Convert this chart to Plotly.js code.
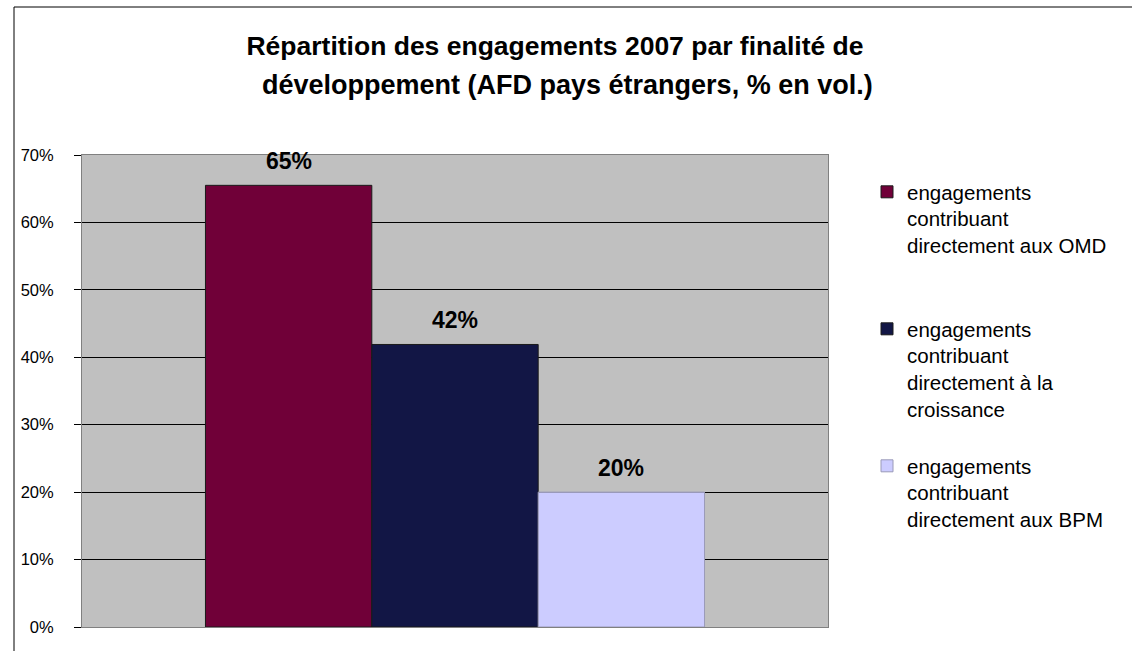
<!DOCTYPE html>
<html>
<head>
<meta charset="utf-8">
<script src="https://cdn.plot.ly/plotly-3.0.1.min.js"></script>
<style>
  html, body { margin: 0; padding: 0; background: #fff; }
  #chart { width: 1132px; height: 651px; }
</style>
</head>
<body>
<div id="chart"></div>
<script>
// ---- data ----
const category = ["Engagements AFD"];
const seriesNames = [
  "engagements<br>contribuant<br>directement aux OMD",
  "engagements<br>contribuant<br>directement à la<br>croissance",
  "engagements<br>contribuant<br>directement aux BPM"
];
const seriesValues = [0.655, 0.419, 0.20];
const seriesLabels = ["65%", "42%", "20%"];
const seriesColors = ["#700038", "#121645", "#CCCCFF"];
const yTickValues = [0, 0.1, 0.2, 0.3, 0.4, 0.5, 0.6, 0.7];
const yTickLabels = ["0%", "10%", "20%", "30%", "40%", "50%", "60%", "70%"];
const titleLine1 = "Répartition des engagements 2007 par finalité de";
const titleLine2 = "développement (AFD pays étrangers, % en vol.)";

// ---- layout geometry ----
const W = 1132, H = 651;
const M = { l: 82, r: 304, t: 155, b: 24 };
const plotW = W - M.l - M.r;
const plotH = H - M.t - M.b;
const bargap = 0.331;
const barW = plotW * (1 - bargap) / seriesValues.length;
const px2paperX = px => (px - M.l) / plotW;
const px2paperY = py => (H - M.b - py) / plotH;

const font = "Arial, 'Liberation Sans', Helvetica, sans-serif";
const legendNames = ["legend", "legend2", "legend3"];
const legendTops = [172, 309, 446];

const traces = seriesValues.map((v, i) => ({
  type: "bar",
  x: category,
  y: [v],
  name: seriesNames[i],
  legend: legendNames[i],
  marker: {
    color: seriesColors[i],
    line: { color: i === 2 ? "#9a9ab8" : "#1a1a1a", width: 1 }
  },
  hoverinfo: "skip"
}));

const annotations = seriesValues.map((v, i) => ({
  xref: "x", yref: "y",
  x: 0, y: v,
  xshift: (i - (seriesValues.length - 1) / 2) * barW,
  yshift: 9,
  yanchor: "bottom",
  text: "<b>" + seriesLabels[i] + "</b>",
  showarrow: false,
  font: { family: font, size: 23, color: "#000" }
}));
annotations.push({
  xref: "paper", yref: "paper",
  x: px2paperX(567), y: px2paperY(85),
  xanchor: "center", yanchor: "middle",
  text: "<b>" + titleLine2 + "</b>",
  showarrow: false,
  font: { family: font, size: 27, color: "#000" }
});

const layout = {
  width: W, height: H,
  margin: M,
  paper_bgcolor: "#ffffff",
  plot_bgcolor: "#C0C0C0",
  barmode: "group",
  bargap: bargap,
  bargroupgap: 0,
  showlegend: true,
  title: {
    text: "<b>" + titleLine1 + "</b>",
    font: { family: font, size: 26.5, color: "#000" },
    x: 555 / W, xanchor: "center",
    yref: "container", y: 1 - 46 / H, yanchor: "middle"
  },
  xaxis: {
    type: "category",
    range: [-0.5, 0.5],
    autorange: false,
    showticklabels: false,
    ticks: "",
    showgrid: false,
    zeroline: false,
    showline: true, linecolor: "#808080", linewidth: 1, mirror: true,
    fixedrange: true
  },
  yaxis: {
    range: [0, 0.7],
    autorange: false,
    tickvals: yTickValues,
    ticktext: yTickLabels,
    ticks: "outside", ticklen: 7, tickcolor: "#000", tickwidth: 1,
    ticklabelstandoff: 17,
    tickfont: { family: font, size: 16.5, color: "#000" },
    showgrid: true, gridcolor: "#000", gridwidth: 1,
    zeroline: false,
    showline: true, linecolor: "#808080", linewidth: 1, mirror: true,
    fixedrange: true
  },
  annotations: annotations,
  shapes: [{
    type: "rect", xref: "paper", yref: "paper",
    x0: px2paperX(14), y0: px2paperY(H + 20),
    x1: px2paperX(W + 20), y1: px2paperY(7),
    line: { color: "#000", width: 1 },
    fillcolor: "rgba(0,0,0,0)",
    layer: "below"
  }]
};

legendNames.forEach((ln, i) => {
  layout[ln] = {
    x: px2paperX(867), xanchor: "left",
    y: px2paperY(legendTops[i]), yanchor: "top",
    bgcolor: "rgba(0,0,0,0)",
    borderwidth: 0,
    font: { family: font, size: 20.5, color: "#000" },
    itemwidth: 30,
    valign: "top",
    traceorder: "normal"
  };
});

Plotly.newPlot("chart", traces, layout, { staticPlot: true, displayModeBar: false });
</script>
</body>
</html>
